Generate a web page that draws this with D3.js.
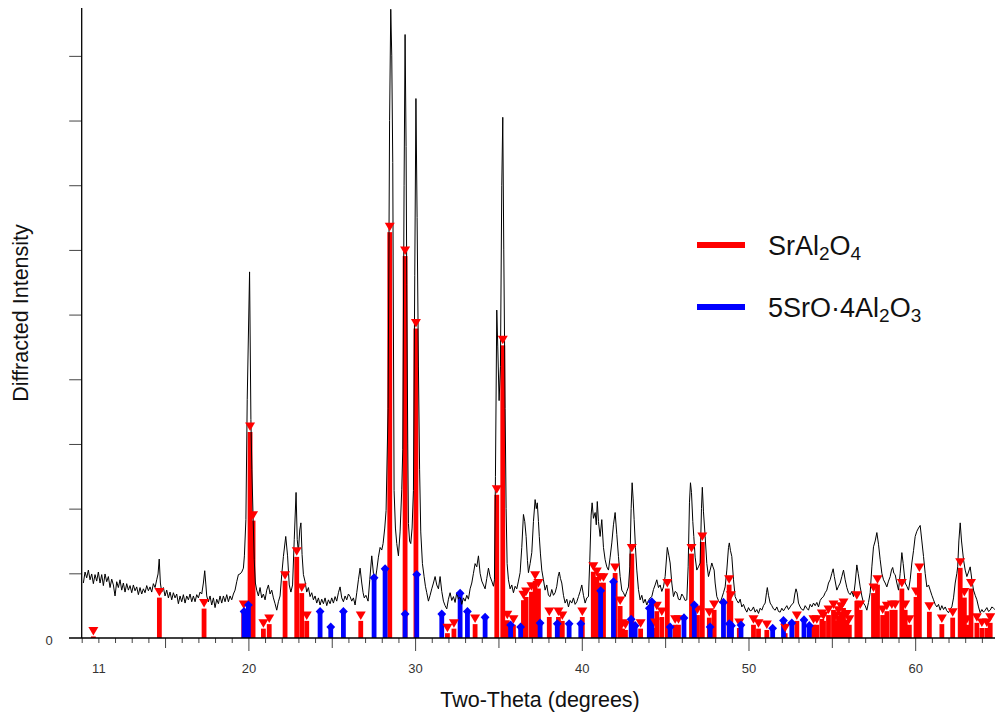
<!DOCTYPE html>
<html><head><meta charset="utf-8">
<script src="https://cdn.jsdelivr.net/npm/d3@7"></script>
<style>
html,body{margin:0;padding:0;background:#fff;}
svg{display:block;font-family:"Liberation Sans",Arial,sans-serif;}
</style>
</head><body>
<svg id="chart" width="995" height="713"></svg>
<script>
// Measured diffraction pattern: [two-theta (deg), intensity (counts)]
const pattern = [
[10.10,85],[10.20,102],[10.30,93],[10.40,105],[10.50,90],[10.60,99],[10.70,84],[10.80,98],[10.90,88],[11.00,102],
[11.10,85],[11.20,98],[11.30,81],[11.40,99],[11.50,87],[11.60,95],[11.70,78],[11.80,91],[11.90,82],[12.00,65],
[12.10,87],[12.20,78],[12.30,90],[12.40,74],[12.50,85],[12.60,71],[12.70,84],[12.80,74],[12.90,81],[13.00,70],
[13.10,82],[13.20,73],[13.30,79],[13.40,67],[13.50,78],[13.60,68],[13.70,76],[13.80,70],[13.90,81],[14.00,73],
[14.10,79],[14.20,71],[14.30,84],[14.40,78],[14.50,90],[14.58,99],[14.65,122],[14.72,85],[14.80,71],[14.90,78],
[15.00,65],[15.10,74],[15.20,62],[15.30,71],[15.40,59],[15.50,70],[15.60,62],[15.70,68],[15.80,53],[15.90,65],
[16.00,56],[16.10,67],[16.20,54],[16.30,65],[16.40,59],[16.50,68],[16.60,56],[16.70,65],[16.80,56],[16.90,67],
[17.00,62],[17.10,71],[17.20,68],[17.30,85],[17.38,104],[17.45,82],[17.50,65],[17.60,56],[17.70,65],[17.80,51],
[17.90,62],[18.00,47],[18.10,60],[18.20,53],[18.30,65],[18.40,54],[18.50,65],[18.60,56],[18.70,67],[18.80,56],
[18.90,65],[19.00,59],[19.10,68],[19.20,74],[19.30,87],[19.40,98],[19.50,99],[19.60,102],[19.70,108],[19.76,127],
[19.85,183],[19.93,369],[20.07,566],[20.15,338],[20.21,260],[20.28,188],[20.35,121],[20.42,85],[20.50,74],[20.60,65],
[20.70,78],[20.80,62],[20.90,68],[21.00,59],[21.10,74],[21.20,82],[21.30,68],[21.40,74],[21.50,62],[21.60,53],
[21.70,43],[21.80,56],[21.90,65],[22.00,98],[22.10,126],[22.24,157],[22.35,127],[22.45,82],[22.55,71],[22.65,82],
[22.75,152],[22.86,225],[22.93,152],[23.00,133],[23.08,167],[23.15,178],[23.22,129],[23.30,98],[23.40,87],[23.50,71],
[23.60,78],[23.70,64],[23.80,70],[23.90,59],[24.00,65],[24.10,54],[24.20,62],[24.30,51],[24.40,60],[24.50,53],
[24.60,62],[24.70,50],[24.80,59],[24.90,53],[25.00,62],[25.10,54],[25.20,64],[25.30,57],[25.40,70],[25.50,79],
[25.60,62],[25.70,56],[25.80,65],[25.90,59],[26.00,68],[26.10,64],[26.20,57],[26.30,62],[26.40,51],[26.50,70],
[26.60,90],[26.70,108],[26.80,85],[26.88,70],[26.95,62],[27.05,66],[27.18,57],[27.28,90],[27.40,127],[27.50,100],
[27.60,88],[27.70,105],[27.80,125],[27.90,140],[28.00,136],[28.08,146],[28.18,170],[28.26,197],[28.38,355],[28.47,800],
[28.54,972],[28.60,900],[28.66,735],[28.74,228],[28.82,170],[28.90,146],[29.00,127],[29.10,164],[29.20,230],[29.26,291],
[29.34,700],[29.40,933],[29.46,760],[29.50,546],[29.56,300],[29.60,177],[29.67,150],[29.74,146],[29.82,170],[29.90,228],
[29.98,560],[30.05,834],[30.12,650],[30.20,419],[30.27,260],[30.34,164],[30.44,115],[30.54,95],[30.62,80],[30.70,70],
[30.80,57],[30.90,66],[31.00,76],[31.10,85],[31.20,95],[31.30,82],[31.40,76],[31.50,95],[31.60,72],[31.70,57],
[31.80,50],[31.90,45],[32.00,60],[32.10,70],[32.20,58],[32.30,64],[32.40,55],[32.50,70],[32.60,60],[32.70,64],
[32.80,52],[32.90,62],[33.00,57],[33.10,66],[33.20,60],[33.30,76],[33.40,85],[33.50,100],[33.60,115],[33.70,110],
[33.80,127],[33.90,100],[34.00,88],[34.10,82],[34.20,76],[34.30,92],[34.40,108],[34.50,95],[34.60,88],[34.70,80],
[34.76,90],[34.82,250],[34.90,507],[34.96,450],[35.04,367],[35.12,420],[35.20,700],[35.26,805],[35.32,600],[35.40,355],
[35.46,200],[35.52,115],[35.60,90],[35.70,76],[35.80,82],[35.90,70],[36.00,80],[36.10,76],[36.20,88],[36.30,101],
[36.40,140],[36.50,191],[36.58,180],[36.66,157],[36.74,120],[36.80,101],[36.90,115],[37.00,132],[37.10,180],[37.20,214],
[37.27,200],[37.33,209],[37.40,180],[37.45,157],[37.52,130],[37.60,105],[37.70,90],[37.80,74],[37.90,82],[38.00,66],
[38.10,64],[38.20,75],[38.30,66],[38.40,70],[38.50,80],[38.58,95],[38.65,102],[38.72,92],[38.80,85],[38.90,66],
[39.00,54],[39.10,60],[39.20,48],[39.30,58],[39.40,54],[39.50,62],[39.60,52],[39.70,56],[39.80,64],[39.90,72],
[40.00,82],[40.10,66],[40.20,54],[40.30,62],[40.40,64],[40.48,120],[40.56,190],[40.62,209],[40.70,185],[40.80,194],
[40.87,175],[40.93,211],[41.00,180],[41.10,157],[41.20,183],[41.30,140],[41.40,121],[41.50,110],[41.60,105],[41.70,125],
[41.80,147],[41.90,175],[42.00,194],[42.10,160],[42.20,126],[42.30,95],[42.40,74],[42.50,70],[42.60,64],[42.70,72],
[42.80,79],[42.88,110],[42.96,200],[43.02,240],[43.08,215],[43.14,183],[43.22,140],[43.30,105],[43.40,75],[43.50,59],
[43.60,66],[43.70,54],[43.80,60],[43.90,51],[44.00,58],[44.10,62],[44.20,64],[44.30,75],[44.40,82],[44.50,90],
[44.60,78],[44.70,82],[44.80,72],[44.90,79],[45.00,95],[45.13,140],[45.22,128],[45.30,116],[45.40,85],[45.50,64],
[45.60,72],[45.70,70],[45.80,60],[45.90,59],[46.00,68],[46.10,64],[46.20,58],[46.30,59],[46.38,110],[46.46,210],
[46.52,240],[46.58,225],[46.66,180],[46.72,157],[46.80,125],[46.90,105],[47.00,110],[47.10,116],[47.18,200],[47.23,233],
[47.30,195],[47.40,157],[47.50,115],[47.60,95],[47.70,105],[47.80,116],[47.87,110],[47.94,105],[48.00,85],[48.10,64],
[48.20,58],[48.30,54],[48.40,62],[48.50,70],[48.60,79],[48.70,105],[48.80,140],[48.85,147],[48.92,135],[49.00,126],
[49.10,90],[49.20,64],[49.30,58],[49.40,54],[49.50,60],[49.60,48],[49.70,52],[49.80,45],[49.90,40],[50.00,47],
[50.10,42],[50.20,43],[50.30,48],[50.40,40],[50.50,44],[50.60,38],[50.70,46],[50.80,43],[50.90,50],[51.00,54],
[51.08,70],[51.13,78],[51.20,66],[51.30,54],[51.40,50],[51.50,45],[51.60,43],[51.70,48],[51.80,41],[51.90,40],
[52.00,46],[52.10,42],[52.20,46],[52.30,50],[52.40,44],[52.50,48],[52.60,52],[52.70,54],[52.78,68],[52.85,76],
[52.92,70],[53.00,54],[53.10,48],[53.20,44],[53.30,43],[53.40,50],[53.50,46],[53.60,43],[53.70,52],[53.80,48],
[53.90,54],[54.00,50],[54.10,55],[54.20,48],[54.30,58],[54.40,62],[54.50,64],[54.60,70],[54.70,74],[54.80,85],
[54.90,90],[55.00,100],[55.08,107],[55.15,95],[55.30,74],[55.40,80],[55.50,85],[55.60,95],[55.70,105],[55.80,90],
[55.90,78],[56.00,70],[56.10,67],[56.20,72],[56.30,64],[56.40,85],[56.50,113],[56.58,100],[56.70,79],[56.80,65],
[56.90,54],[57.00,50],[57.10,43],[57.20,55],[57.30,70],[57.40,110],[57.50,141],[57.60,150],[57.70,163],[57.80,145],
[57.90,121],[58.00,100],[58.10,90],[58.20,85],[58.30,79],[58.40,88],[58.50,95],[58.58,105],[58.65,109],[58.72,100],
[58.80,98],[58.90,85],[59.00,74],[59.10,100],[59.20,132],[59.28,115],[59.40,85],[59.50,80],[59.60,74],[59.70,90],
[59.80,116],[59.90,135],[60.00,157],[60.10,165],[60.20,170],[60.30,174],[60.40,150],[60.50,126],[60.60,100],[60.70,79],
[60.80,82],[60.90,74],[61.00,66],[61.10,59],[61.20,52],[61.30,48],[61.40,52],[61.50,43],[61.60,50],[61.70,44],
[61.80,48],[61.90,42],[62.00,39],[62.10,45],[62.20,48],[62.30,62],[62.40,85],[62.50,100],[62.55,110],[62.62,150],
[62.70,178],[62.78,150],[62.90,121],[63.00,105],[63.10,95],[63.20,102],[63.30,110],[63.40,90],[63.50,74],[63.60,66],
[63.70,59],[63.80,48],[63.90,39],[64.00,44],[64.10,40],[64.20,43],[64.30,47],[64.40,41],[64.50,43],[64.60,48],
[64.70,46],[64.78,44]
];

// Reference stick pattern SrAl2O4: [two-theta, intensity]
const srAl2O4Sticks = [
[10.70,4],[14.66,64],[17.34,47],[19.72,45],[20.10,320],[20.28,183],[20.90,16],[21.25,23],[22.20,90],[22.90,127],
[23.20,71],[23.50,28],[26.74,28],[28.48,629],[29.40,592],[30.05,480],[31.94,9],[32.33,16],[33.60,23],[34.90,223],
[35.26,454],[35.53,29],[35.90,22],[36.50,60],[36.66,65],[36.98,73],[37.20,90],[37.40,78],[38.05,34],[38.60,34],
[38.83,28],[40.03,34],[40.69,104],[40.90,96],[41.10,87],[41.30,87],[42.00,102],[42.30,51],[42.45,16],[42.62,14],
[43.00,132],[43.53,16],[44.40,17],[44.50,43],[44.80,34],[45.13,78],[45.60,22],[45.80,22],[46.58,132],[46.94,37],
[47.23,150],[47.65,33],[47.94,45],[48.84,84],[48.94,59],[49.45,17],[50.30,22],[50.60,16],[51.10,14],[52.20,9],
[52.90,28],[53.90,22],[54.10,22],[54.40,31],[54.50,28],[54.80,37],[55.10,45],[55.25,28],[55.40,36],[55.55,42],
[55.70,48],[55.90,30],[56.05,22],[56.50,59],[56.70,45],[57.50,71],[57.74,84],[58.05,37],[58.30,43],[58.60,45],
[58.80,45],[59.20,78],[59.40,45],[59.65,22],[60.05,65],[60.25,102],[60.85,42],[61.60,23],[62.25,33],[62.70,110],
[62.95,64],[63.10,22],[63.35,78],[63.70,25],[64.00,17],[64.30,17],[64.50,25]
];

// Reference stick pattern 5SrO·4Al2O3: [two-theta, intensity]
const sr5Al8Sticks = [
[19.74,41],[20.00,51],[24.30,41],[24.94,17],[25.70,41],[27.54,93],[28.20,107],[29.40,37],[30.10,98],[31.60,37],
[32.70,69],[33.14,41],[34.20,32],[35.73,20],[36.33,17],[37.50,23],[38.53,22],[39.24,22],[39.94,22],[41.13,73],
[41.90,87],[42.96,29],[43.20,19],[44.05,46],[44.20,56],[45.30,17],[46.13,31],[46.75,51],[47.70,17],[48.50,55],
[48.85,22],[48.98,19],[49.55,20],[51.45,15],[52.10,27],[52.60,23],[53.33,28],[53.65,19]
];

const xTickLabels = [11, 20, 30, 40, 50, 60];
const yTickValues = [100, 200, 300, 400, 500, 600, 700, 800, 900];
const legendItems = [
  {color: "#ff0000", parts: [["SrAl", false], ["2", true], ["O", false], ["4", true]]},
  {color: "#0000ff", parts: [["5SrO·4Al", false], ["2", true], ["O", false], ["3", true]]}
];

const svg = d3.select("#chart");
const x = d3.scaleLinear().domain([10, 64.8]).range([81.7, 995.2]);
const y = d3.scaleLinear().domain([0, 974]).range([638, 8]);
const tickColor = "#444";

// stick bars
function drawBars(data, color) {
  svg.append("g").selectAll("rect").data(data).join("rect")
    .attr("x", d => x(d[0]) - 2.4)
    .attr("y", d => y(d[1]) + 1)
    .attr("width", 4.8)
    .attr("height", d => Math.max(0, y(0) - y(d[1]) - 1))
    .attr("fill", color);
}
drawBars(srAl2O4Sticks, "#ff0000");
drawBars(sr5Al8Sticks, "#0000ff");

// diffraction trace
svg.append("path")
  .datum(pattern)
  .attr("fill", "none")
  .attr("stroke", "#000")
  .attr("stroke-width", 1)
  .attr("stroke-linejoin", "round")
  .attr("d", d3.line().x(d => x(d[0])).y(d => y(d[1])));

// stick markers
function drawMarkers(data, color, marker) {
  svg.append("g").selectAll("path").data(data).join("path")
    .attr("fill", color)
    .attr("d", d => {
      const cx = x(d[0]), cy = y(d[1]);
      if (marker === "tri") {
        return `M${cx - 5},${cy - 8.5}L${cx + 5},${cy - 8.5}L${cx},${cy}Z`;
      }
      return `M${cx},${cy - 4.6}L${cx + 4.4},${cy}L${cx},${cy + 4.6}L${cx - 4.4},${cy}Z`;
    });
}
drawMarkers(srAl2O4Sticks, "#ff0000", "tri");
drawMarkers(sr5Al8Sticks, "#0000ff", "dia");

// x axis ticks (three lengths)
const allDeg = d3.range(10, 65);
function xTickAxis(vals, size) {
  const g = svg.append("g").attr("transform", `translate(0,${y(0)})`)
    .call(d3.axisBottom(x).tickValues(vals).tickSize(size).tickFormat(""));
  g.select(".domain").remove();
  g.selectAll(".tick line").attr("stroke", tickColor);
  return g;
}
xTickAxis(allDeg.filter(d => d % 5 !== 0 || d === 10), 5);
xTickAxis(allDeg.filter(d => d % 5 === 0 && d % 10 !== 0), 10);
xTickAxis(allDeg.filter(d => d % 10 === 0 && d !== 10), 13);

const xLab = svg.append("g").attr("transform", `translate(0,${y(0)})`)
  .call(d3.axisBottom(x).tickValues(xTickLabels).tickSize(0).tickPadding(25.5).tickFormat(d3.format("d")));
xLab.select(".domain").remove();
xLab.selectAll("text").attr("font-size", 13).attr("fill", "#333").attr("font-family", "Liberation Sans, Arial, sans-serif");

// y axis ticks
const yAx = svg.append("g").attr("transform", `translate(${x(10)},0)`)
  .call(d3.axisLeft(y).tickValues(yTickValues).tickSize(12.5).tickFormat(""));
yAx.select(".domain").remove();
yAx.selectAll(".tick line").attr("stroke", tickColor);
const yZero = svg.append("g").attr("transform", `translate(${x(10)},0)`)
  .call(d3.axisLeft(y).tickValues([0]).tickSize(0).tickPadding(29).tickFormat(d3.format("d")));
yZero.select(".domain").remove();
yZero.selectAll("text").attr("font-size", 13).attr("fill", "#333").attr("dy", "0.5em")
  .attr("font-family", "Liberation Sans, Arial, sans-serif");

// axis lines
svg.append("line").attr("x1", 69).attr("x2", 995).attr("y1", y(0)).attr("y2", y(0))
  .attr("stroke", "#000").attr("stroke-width", 1.3);
svg.append("line").attr("x1", x(10)).attr("x2", x(10)).attr("y1", y(974)).attr("y2", y(0))
  .attr("stroke", "#000").attr("stroke-width", 1.3);

// axis titles
svg.append("text").attr("x", 540).attr("y", 706.5).attr("text-anchor", "middle")
  .attr("font-size", 21.5).attr("fill", "#111").text("Two-Theta (degrees)");
svg.append("text").attr("transform", "translate(28,313) rotate(-90)").attr("text-anchor", "middle")
  .attr("font-size", 21.5).attr("fill", "#111").text("Diffracted Intensity");

// legend
const leg = svg.append("g");
legendItems.forEach((item, i) => {
  const ly = 245 + i * 62;
  leg.append("line").attr("x1", 697).attr("x2", 745).attr("y1", ly).attr("y2", ly)
    .attr("stroke", item.color).attr("stroke-width", 6);
  const t = leg.append("text").attr("x", 768).attr("y", ly + 9.5).attr("font-size", 27).attr("fill", "#111");
  let shifted = false;
  item.parts.forEach(([s, sub]) => {
    const ts = t.append("tspan").text(s);
    if (sub && !shifted) { ts.attr("dy", 5).attr("font-size", 19); shifted = true; }
    else if (!sub && shifted) { ts.attr("dy", -5); shifted = false; }
    else if (sub) { ts.attr("font-size", 19); }
  });
});
</script>
</body></html>
